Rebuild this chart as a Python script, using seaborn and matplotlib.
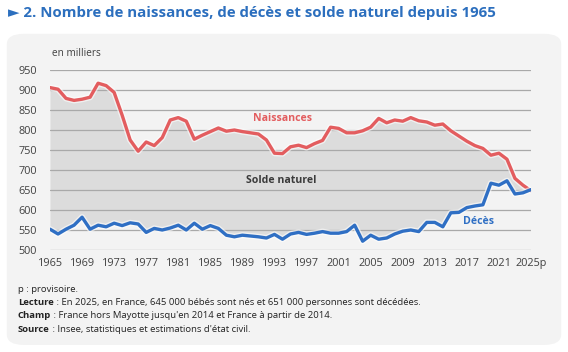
import pandas as pd
import matplotlib
matplotlib.use("Agg")
import matplotlib.pyplot as plt
import matplotlib.patheffects as pe
from matplotlib.patches import FancyBboxPatch
import seaborn as sns

# Data (thousands)
years = list(range(1965, 2026))
naissances = [906, 902, 879, 874, 877, 882, 917, 911, 894, 837,
              775, 747, 770, 761, 781, 825, 831, 822, 777, 787,
              796, 805, 797, 800, 796, 793, 790, 775, 742, 741,
              758, 762, 756, 766, 774, 807, 804, 793, 793, 798,
              807, 829, 818, 825, 822, 831, 823, 820, 812, 815,
              798, 785, 772, 761, 754, 737, 742, 727, 679, 662,
              648]
deces = [552, 540, 552, 562, 582, 552, 562, 558, 567, 561,
         568, 565, 544, 554, 550, 555, 562, 550, 567, 552,
         561, 554, 537, 533, 537, 535, 533, 530, 539, 527,
         540, 544, 539, 542, 546, 542, 542, 546, 562, 522,
         537, 527, 530, 540, 547, 550, 546, 569, 569, 558,
         593, 594, 606, 610, 613, 667, 662, 673, 640, 643,
         651]
tick_years = list(range(1965, 2026, 4))
tick_labels = [str(y) for y in tick_years[:-1]] + ["2025p"]
y_ticks = list(range(500, 951, 50))

df = pd.DataFrame({"Annee": years, "Naissances": naissances, "Deces": deces})

sns.set_theme(style="white")
plt.rcParams["font.family"] = ["Open Sans", "DejaVu Sans"]

c_birth = "#e35d5f"
c_death = "#2f6fc4"
c_title = "#2c6fbe"
c_panel = "#f3f3f3"

fig = plt.figure(figsize=(5.68, 3.52), dpi=100)
fig.patch.set_facecolor("white")

# rounded background panel
panel = FancyBboxPatch((0.012, 0.02), 0.976, 0.884, boxstyle="round,pad=0,rounding_size=0.03",
                       transform=fig.transFigure, facecolor=c_panel, edgecolor="none", zorder=-5)
fig.patches.append(panel)

ax = fig.add_axes([50 / 568, 1 - 250 / 352, 481 / 568, 180 / 352])
ax.set_facecolor("none")
ax.set_zorder(2)

# solde naturel area
ax.fill_between(df["Annee"], df["Deces"], df["Naissances"], color="#dcdcdc", lw=0, zorder=1)

halo = [pe.Stroke(linewidth=4.4, foreground="white", alpha=0.6), pe.Normal()]
sns.lineplot(data=df, x="Annee", y="Naissances", ax=ax, color=c_birth, lw=2.4, zorder=3,
             path_effects=halo)
sns.lineplot(data=df, x="Annee", y="Deces", ax=ax, color=c_death, lw=2.4, zorder=4,
             path_effects=halo)

ax.set_xlim(1965, 2025)
ax.set_ylim(500, 950)
ax.set_yticks(y_ticks)
ax.set_xticks(tick_years)
ax.set_xticklabels(tick_labels)
ax.grid(axis="y", color="#a9a9a9", lw=0.9)
ax.set_axisbelow(False)
for line in ax.get_ygridlines():
    line.set_zorder(2)
for s in ax.spines.values():
    s.set_visible(False)
ax.tick_params(axis="both", length=0, labelsize=7.8, colors="#404040")
ax.tick_params(axis="x", pad=6)
ax.tick_params(axis="y", pad=9.5)
ax.set_xlabel("")
ax.set_ylabel("")

# series labels
ax.text(1994, 828, "Naissances", color=c_birth, fontsize=7.6, fontweight="bold", ha="center", va="center")
ax.text(1993.9, 673, "Solde naturel", color="#3a3a3a", fontsize=7.6, fontweight="bold", ha="center", va="center")
ax.text(2018.4, 570, "Décès", color=c_death, fontsize=7.6, fontweight="bold", ha="center", va="center")

fig.text(52 / 568, 1 - 53 / 352, "en milliers", fontsize=7.2, color="#404040", va="center")

# title
fig.text(8 / 568, 1 - 13 / 352, "► 2. Nombre de naissances, de décès et solde naturel depuis 1965",
         fontsize=10.8, fontweight="bold", color=c_title, va="center")

# footnotes
fig.text(18 / 568, 1 - 289 / 352, "p : provisoire.", fontsize=6.8, color="#222222", va="center")
notes = [("Lecture", " : En 2025, en France, 645 000 bébés sont nés et 651 000 personnes sont décédées."),
         ("Champ", " : France hors Mayotte jusqu'en 2014 et France à partir de 2014."),
         ("Source", " : Insee, statistiques et estimations d'état civil.")]
for i, (b, rest) in enumerate(notes):
    y = 1 - (302.5 + i * 13.3) / 352
    t = fig.text(18 / 568, y, b, fontsize=6.8, fontweight="bold", color="#222222", va="center")
    ax.annotate(rest, xy=(1, 0.5), xycoords=t, va="center", ha="left", fontsize=6.8, color="#222222",
                annotation_clip=False)

fig.savefig("out.png", dpi=100)
